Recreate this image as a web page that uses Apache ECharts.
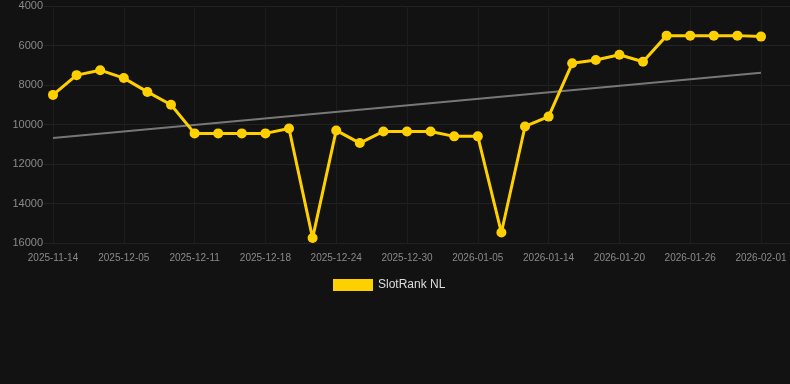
<!DOCTYPE html>
<html>
<head>
<meta charset="utf-8">
<script src="https://cdn.jsdelivr.net/npm/echarts@6/dist/echarts.min.js"></script>
<style>
html,body{margin:0;padding:0;background:#121212;}
#chart{width:790px;height:384px;}
</style>
</head>
<body>
<div id="chart"></div>
<script>
const categories = [
  "2025-11-14","2025-11-21","2025-11-28","2025-12-05","2025-12-07","2025-12-09",
  "2025-12-11","2025-12-13","2025-12-16","2025-12-18","2025-12-20","2025-12-22",
  "2025-12-24","2025-12-26","2025-12-28","2025-12-30","2026-01-01","2026-01-03",
  "2026-01-05","2026-01-08","2026-01-11","2026-01-14","2026-01-16","2026-01-18",
  "2026-01-20","2026-01-22","2026-01-24","2026-01-26","2026-01-28","2026-01-30",
  "2026-02-01"
];
const rankValues = [
  8500, 7500, 7250, 7650, 8350, 9000,
  10450, 10450, 10450, 10450, 10200, 15750,
  10300, 10940, 10350, 10350, 10350, 10600,
  10600, 15470, 10100, 9600, 6900, 6730,
  6470, 6820, 5500, 5500, 5500, 5500,
  5550
];
const trendStart = 10680;
const trendEnd = 7380;
const seriesName = "SlotRank NL";

const font = 'Liberation Sans, Arial, sans-serif';
const chart = echarts.init(document.getElementById('chart'));
chart.setOption({
  backgroundColor: '#121212',
  animation: false,
  grid: [
    { left: 53, right: 29, top: 6, bottom: 141, containLabel: false },
    { left: 44, right: 0, top: 6, bottom: 141, containLabel: false }
  ],
  legend: {
    bottom: 88,
    left: 328,
    itemWidth: 40,
    itemHeight: 12,
    icon: 'rect',
    textStyle: { color: '#dddddd', fontSize: 12, fontFamily: font },
    data: [seriesName]
  },
  xAxis: [
    {
      type: 'category',
      gridIndex: 0,
      data: categories,
      boundaryGap: false,
      axisLine: { show: false },
      axisTick: { show: false },
      axisLabel: { interval: 2, color: '#8a8a8a', fontSize: 10, margin: 10, fontFamily: font },
      splitLine: { show: true, interval: 2, lineStyle: { color: '#1d1d1d' } }
    },
    {
      type: 'value',
      gridIndex: 1,
      show: false,
      min: 0,
      max: 1
    }
  ],
  yAxis: [
    {
      type: 'value',
      gridIndex: 0,
      inverse: true,
      min: 4000,
      max: 16000,
      interval: 2000,
      axisLine: { show: false },
      axisTick: { show: false },
      axisLabel: { color: '#8a8a8a', fontSize: 11, margin: 10, fontFamily: font, formatter: v => String(v) },
      splitLine: { show: false }
    },
    {
      type: 'value',
      gridIndex: 1,
      inverse: true,
      min: 4000,
      max: 16000,
      interval: 2000,
      axisLine: { show: false },
      axisTick: { show: false },
      axisLabel: { show: false },
      splitLine: { show: true, lineStyle: { color: '#222222' } }
    }
  ],
  series: [
    {
      name: seriesName,
      type: 'line',
      xAxisIndex: 0,
      yAxisIndex: 0,
      data: rankValues,
      symbol: 'circle',
      symbolSize: 10,
      itemStyle: { color: '#FFD000' },
      lineStyle: { color: '#FFD000', width: 3 },
      z: 3
    },
    {
      name: 'trend',
      type: 'line',
      xAxisIndex: 0,
      yAxisIndex: 0,
      data: [[0, trendStart], [categories.length - 1, trendEnd]],
      symbol: 'none',
      lineStyle: { color: '#777777', width: 2 },
      itemStyle: { color: '#777777' },
      z: 2
    }
  ]
});
</script>
</body>
</html>
